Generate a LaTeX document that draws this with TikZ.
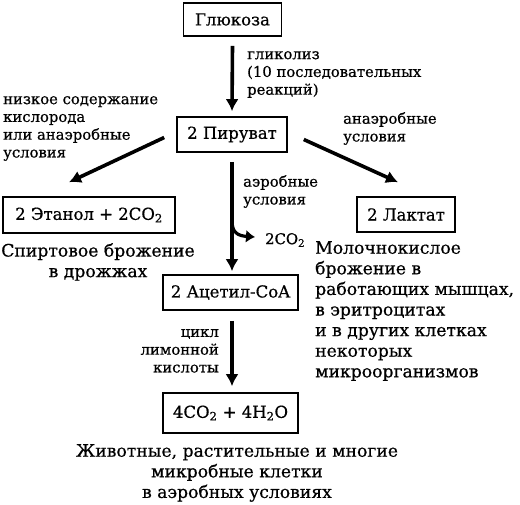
\documentclass[tikz,border=0pt]{standalone}
\usepackage{fontspec}
\setmainfont{DejaVu Serif}[FakeBold=0.6]
\usetikzlibrary{arrows.meta,calc}
\begin{document}
\begin{tikzpicture}[x=1pt,y=-1pt,
  box/.style={draw,line width=1.6pt,inner sep=0pt,font=\fontsize{16.5}{18}\selectfont},
  big/.style={inner sep=0pt,align=left,font=\fontsize{17.2}{20.6}\selectfont},
  small/.style={inner sep=0pt,align=left,font=\fontsize{14.8}{17.8}\selectfont},
  arr/.style={line width=3.6pt,-{Latex[length=12pt,width=13pt]}}]
\useasboundingbox (0,0) rectangle (520,504);
\node[box,minimum width=98pt,minimum height=33pt] (glu) at (232.5,19.5) {Глюкоза};
\node[box,minimum width=110pt,minimum height=35pt] (pyr) at (232,134.5) {2 Пируват};
\node[box,minimum width=172pt,minimum height=36pt] (eth) at (89,215) {2 Этанол + 2CO\textsubscript{2}};
\node[box,minimum width=98pt,minimum height=35pt] (lac) at (406,214.5) {2 Лактат};
\node[box,minimum width=135pt,minimum height=35pt] (acc) at (230.5,292.5) {2 Ацетил-CoA};
\node[box,minimum width=135pt,minimum height=40pt] (fin) at (230.5,413) {4CO\textsubscript{2} + 4H\textsubscript{2}O};
\node[small,anchor=north west] (gly) at (247,51) {гликолиз\\(10 последовательных\\реакций)};
\node[small,anchor=north west] (low) at (3,96) {низкое содержание\\кислорода\\или анаэробные\\условия};
\node[small,anchor=north west] (ana) at (343,112) {анаэробные\\условия};
\node[small,anchor=north west] (aer) at (243,175) {аэробные\\условия};
\node[small,anchor=west] (co2) at (265,240) {2CO\textsubscript{2}};
\node[big,align=center,anchor=north] (spirt) at (98,243) {Спиртовое брожение\\в дрожжах};
\node[big,anchor=north west] (milk) at (315,241) {Молочнокислое\\брожение в\\работающих мышцах,\\в эритроцитах\\и в других клетках\\некоторых\\микроорганизмов};
\node[small,align=right,anchor=north east] (cyc) at (219,329) {цикл\\лимонной\\кислоты};
\node[big,align=center,anchor=north] (anim) at (237,444) {Животные, растительные и многие\\микробные клетки\\в аэробных условиях};
\draw[arr] ($(glu.south)+(0,9)$) -- ($(pyr.north)+(0,-5)$);
\draw[arr] ($(pyr.west)+(-12,3)$) -- ($(eth.north)+(-20,-14)$);
\draw[arr] ($(pyr.east)+(16,5)$) -- ($(lac.north)+(-8,-14)$);
\draw[arr] ($(pyr.south)+(0,9)$) -- ($(acc.north)+(1.5,-3)$);
\coordinate (br) at ($(pyr.south)+(0,68)$);
\draw[line width=3.2pt,-{Latex[length=9pt,width=13pt]}] (br) .. controls ($(br)+(0,12)$) and ($(br)+(6,15)$) .. ($(co2.west)+(-10,-3)$);
\draw[arr] ($(acc.south)+(1.5,10)$) -- ($(fin.north)+(1.5,-6)$);
\end{tikzpicture}
\end{document}
